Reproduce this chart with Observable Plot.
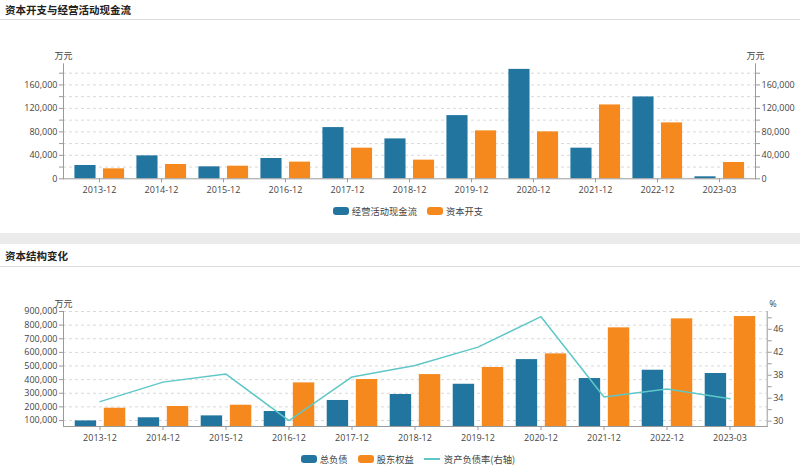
<!DOCTYPE html>
<html>
<head>
<meta charset="utf-8">
<script src="https://cdn.jsdelivr.net/npm/d3@7"></script>
<script src="https://cdn.jsdelivr.net/npm/@observablehq/plot@0.6"></script>
<style>
  body { margin:0; background:#fff; width:800px; height:467px; position:relative; overflow:hidden;
         font-family:"Open Sans","Noto Sans CJK SC",sans-serif; }
  .title { position:absolute; left:5px; font-family:"Noto Sans CJK SC",sans-serif; font-weight:bold;
           font-size:10.5px; line-height:12px; color:#222; }
  .rule { position:absolute; left:0; width:800px; height:1px; background:#dcdcdc; }
  .band { position:absolute; left:0; width:800px; height:11px; background:#ebebeb; }
  .chart { position:absolute; left:0; }
  .legend { position:absolute; left:16px; width:784px; display:flex; justify-content:center; align-items:center;
            font-family:"Noto Sans CJK SC",sans-serif; font-size:9.3px; line-height:12px; color:#444; }
  .item { display:flex; align-items:center; margin:0 5px; }
  .sw { width:16px; height:8px; border-radius:3px; margin-right:3px; }
  .ln { width:16px; height:2px; margin-right:4px; }
</style>
</head>
<body>
<div class="title" style="top:3.5px">资本开支与经营活动现金流</div>
<div class="rule" style="top:19px"></div>
<div id="c1" class="chart" style="top:20px"></div>
<div id="l1" class="legend" style="top:205px"></div>
<div class="band" style="top:233px"></div>
<div class="title" style="top:250px">资本结构变化</div>
<div class="rule" style="top:266px"></div>
<div id="c2" class="chart" style="top:268px"></div>
<div id="l2" class="legend" style="top:452.5px"></div>
<script>
// ---- data ----
const categories = ["2013-12","2014-12","2015-12","2016-12","2017-12","2018-12","2019-12","2020-12","2021-12","2022-12","2023-03"];
const operatingCashFlow = [22700, 39100, 20400, 34600, 87300, 68000, 107700, 186500, 52200, 139500, 3400];
const capitalExpenditure = [17000, 24400, 21500, 28400, 52200, 31800, 81700, 80000, 125900, 95300, 27800];
const totalLiabilities = [97000, 120000, 134000, 166000, 247000, 291000, 366000, 547000, 408000, 469000, 445000];
const shareholdersEquity = [190000, 203000, 212000, 376000, 401000, 437000, 489000, 589000, 780000, 846000, 863000];
const debtRatio = [33.4, 36.8, 38.2, 30.1, 37.7, 39.7, 42.9, 48.2, 34.2, 35.6, 33.9];

const cf1Ticks = d3.range(0, 200000, 20000);
const cs2Ticks = d3.range(100000, 1000000, 100000);
const pctTicks = d3.range(30, 50, 2);

// ---- style ----
const BLUE = "#21759f", ORANGE = "#f5891e", TEAL = "#5fc7c7";
const AXIS = "#9a9a9a", TEXT = "#444", GRID = "#d9d9d9";
const W = 800;
const fmt = d3.format(",");
const font = {fontFamily:"'Open Sans','Noto Sans CJK SC',sans-serif", fontSize:"9px", color:TEXT, background:"transparent", overflow:"visible"};

// ---- chart 1 ----
{
  const ML = 63, MR = 45, H = 182;
  const bw = (W - ML - MR) / categories.length;
  const rows = categories.map((c, i) => ({cat:c, a:operatingCashFlow[i], b:capitalExpenditure[i]}));
  const chart = Plot.plot({
    width: W, height: H, marginLeft: ML, marginRight: MR, marginTop: 43.3, marginBottom: 23.7,
    style: font,
    x: {type:"band", domain: categories, padding: 0},
    y: {domain: [0, 196000]},
    marks: [
      Plot.gridY({ticks: cf1Ticks.filter(d => d > 0), stroke: GRID, strokeOpacity: 1, strokeDasharray: "3,3"}),
      Plot.barY(rows, {x:"cat", y:"a", fill: BLUE, insetLeft: bw*0.102, insetRight: bw*0.548}),
      Plot.barY(rows, {x:"cat", y:"b", fill: ORANGE, insetLeft: bw*0.556, insetRight: bw*0.094}),
      Plot.frame({anchor:"left", stroke: AXIS}),
      Plot.frame({anchor:"right", stroke: AXIS}),
      Plot.frame({anchor:"bottom", stroke: AXIS}),
      Plot.axisX({tickSize: 4, tickPadding: 4, stroke: AXIS, fill: TEXT, label: null}),
      Plot.axisY({ticks: cf1Ticks, tickSize: 4, tickPadding: 2, stroke: AXIS, fill: TEXT, label: null,
                  tickFormat: d => d % 40000 === 0 ? fmt(d) : ""}),
      Plot.axisY({anchor:"right", ticks: cf1Ticks, tickSize: 4, tickPadding: 2, stroke: AXIS, fill: TEXT, label: null,
                  tickFormat: d => d % 40000 === 0 ? fmt(d) : ""}),
      Plot.text(["万元"], {frameAnchor:"top-left", dy: -11, textAnchor:"middle", fill: TEXT, fontSize: 9}),
      Plot.text(["万元"], {frameAnchor:"top-right", dy: -11, textAnchor:"middle", fill: TEXT, fontSize: 9})
    ]
  });
  document.getElementById("c1").append(chart);
  document.getElementById("l1").innerHTML =
    `<div class="item"><div class="sw" style="background:${BLUE}"></div>经营活动现金流</div>` +
    `<div class="item"><div class="sw" style="background:${ORANGE}"></div>资本开支</div>`;
}

// ---- chart 2 ----
{
  const ML = 63, MR = 33.3, H = 180;
  const YMIN = 56000, YMAX = 900000, PMIN = 29.07, PMAX = 49.1;
  const toY = p => YMIN + (p - PMIN) / (PMAX - PMIN) * (YMAX - YMIN);
  const toP = v => PMIN + (v - YMIN) / (YMAX - YMIN) * (PMAX - PMIN);
  const bw = (W - ML - MR) / categories.length;
  const rows = categories.map((c, i) => ({cat:c, a:totalLiabilities[i], b:shareholdersEquity[i], r:debtRatio[i]}));
  const chart = Plot.plot({
    width: W, height: H, marginLeft: ML, marginRight: MR, marginTop: 43, marginBottom: 22,
    style: font,
    x: {type:"band", domain: categories, padding: 0},
    y: {domain: [YMIN, YMAX]},
    marks: [
      Plot.gridY({ticks: cs2Ticks, stroke: GRID, strokeOpacity: 1, strokeDasharray: "3,3"}),
      Plot.barY(rows, {x:"cat", y:"a", fill: BLUE, clip: true, insetLeft: bw*0.105, insetRight: bw*0.545}),
      Plot.barY(rows, {x:"cat", y:"b", fill: ORANGE, clip: true, insetLeft: bw*0.56, insetRight: bw*0.09}),
      Plot.line(rows, {x:"cat", y: d => toY(d.r), stroke: TEAL, strokeWidth: 1.5}),
      Plot.frame({anchor:"left", stroke: AXIS}),
      Plot.frame({anchor:"right", stroke: AXIS}),
      Plot.frame({anchor:"bottom", stroke: AXIS}),
      Plot.axisX({tickSize: 4, tickPadding: 4, stroke: AXIS, fill: TEXT, label: null}),
      Plot.axisY({ticks: cs2Ticks, tickSize: 4, tickPadding: 2, stroke: AXIS, fill: TEXT, label: null,
                  tickFormat: fmt}),
      Plot.axisY({anchor:"right", ticks: pctTicks.map(toY), tickSize: 4, tickPadding: 2, stroke: AXIS, fill: TEXT, label: null,
                  tickFormat: v => { const p = Math.round(toP(v)); return p % 4 === 2 ? String(p) : ""; }}),
      Plot.text(["万元"], {frameAnchor:"top-left", dy: -11, textAnchor:"middle", fill: TEXT, fontSize: 9}),
      Plot.text(["%"], {frameAnchor:"top-right", dy: -11, dx: 2, textAnchor:"start", fill: TEXT, fontSize: 9})
    ]
  });
  document.getElementById("c2").append(chart);
  document.getElementById("l2").innerHTML =
    `<div class="item"><div class="sw" style="background:${BLUE}"></div>总负债</div>` +
    `<div class="item"><div class="sw" style="background:${ORANGE}"></div>股东权益</div>` +
    `<div class="item"><div class="ln" style="background:${TEAL}"></div>资产负债率(右轴)</div>`;
}
</script>
</body>
</html>
